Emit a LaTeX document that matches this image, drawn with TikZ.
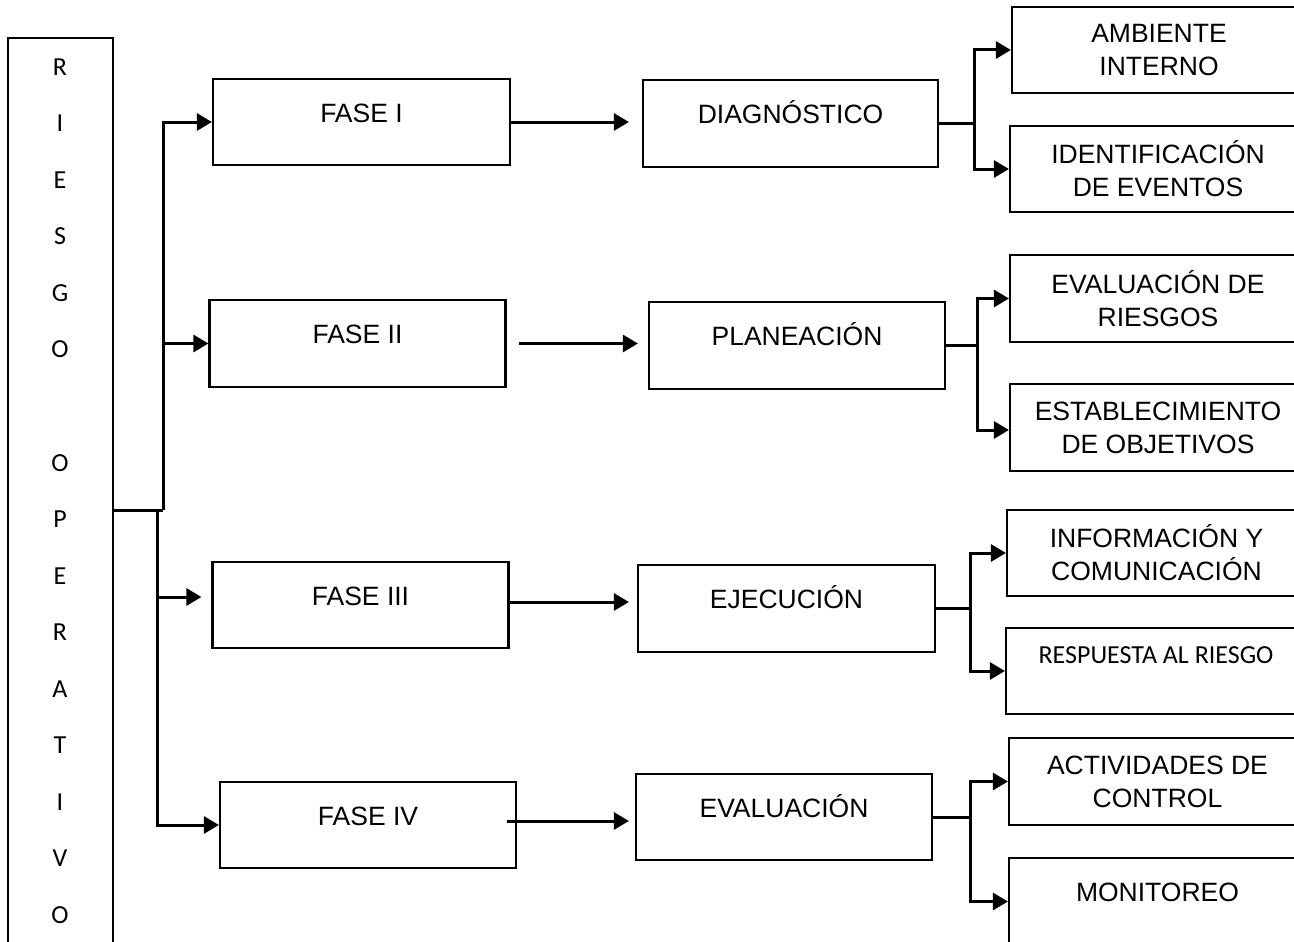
\documentclass[tikz,border=0pt]{standalone}
\usepackage{fontspec}
\setmainfont{Liberation Sans}
\newfontfamily\calib{Carlito}
\usetikzlibrary{arrows.meta}
\begin{document}
\begin{tikzpicture}[x=1pt,y=-1pt,
  box/.style={draw, line width=2.2pt, rectangle, inner sep=0pt,
    font=\fontsize{26.5}{33}\selectfont, align=center},
  onel/.style={text height=0pt, text depth=0pt},
  wbox/.style={box, minimum width=296pt, minimum height=87pt},
  conn/.style={line width=3pt},
  arr/.style={conn, -{Triangle[length=15pt,width=17pt]}},
  letter/.style={font=\calib\fontsize{26}{30}\selectfont, inner sep=0pt}
]
\useasboundingbox (0,0) rectangle (1294,942);
\clip (0,0) rectangle (1294,942);
\fill[white] (0,0) rectangle (1294,942);

% tall title bar with the word spelled vertically
\node[box, minimum width=105pt, minimum height=922pt] (bar) at (60.5,499) {};
\foreach \c/\k in {R/0,I/1,E/2,S/3,G/4,O/5,O/7,P/8,E/9,R/10,A/11,T/12,I/13,V/14,O/15}
  \node[letter] (ltr\k) at (60,{67+56.53*\k}) {\c};

% phases
\node[wbox, onel, minimum width=297pt, minimum height=86pt] (f1) at (361.5,122) {FASE I};
\node[wbox, onel] (f2) at (357.5,343.5) {FASE II};
\node[wbox, onel, minimum height=86pt] (f3) at (360.5,605) {FASE III};
\node[wbox, onel, minimum height=86pt] (f4) at (368,825) {FASE IV};

% stages
\node[wbox, onel, minimum width=295pt] (d1) at (790.5,123.5) {DIAGNÓSTICO};
\node[wbox, onel] (p2) at (797,345.5) {PLANEACIÓN};
\node[wbox, onel, minimum width=297pt] (e3) at (786.5,608.5) {EJECUCIÓN};
\node[wbox, onel, minimum height=86pt] (v4) at (784,817) {EVALUACIÓN};

% components
\node[wbox, minimum width=294pt, minimum height=86pt] (amb) at (1159,50) {AMBIENTE\\INTERNO};
\node[wbox, minimum height=86pt] (ide) at (1158,169) {IDENTIFICACIÓN\\DE EVENTOS};
\node[wbox] (evr) at (1158,298.5) {EVALUACIÓN DE\\RIESGOS};
\node[wbox] (est) at (1158,427.5) {ESTABLECIMIENTO\\DE OBJETIVOS};
\node[wbox, minimum width=299pt, minimum height=86pt] (inf) at (1156.5,553) {INFORMACIÓN Y\\COMUNICACIÓN};
\node[wbox, minimum width=300pt, minimum height=86pt, text height=0pt, text depth=15pt,
  font=\calib\fontsize{26}{30}\selectfont] (res) at (1156,671) {RESPUESTA AL RIESGO};
\node[wbox, minimum width=297pt] (act) at (1157.5,781.5) {ACTIVIDADES DE\\CONTROL};
\node[wbox, onel, minimum width=297pt] (mon) at (1157.5,901.5) {MONITOREO};

% trunk from the title bar to the phases
\coordinate (j1) at (163,510);
\coordinate (j2) at (157,510);
\coordinate (a3) at (157,597);
\draw[conn] (bar.east |- j1) -- (j1);
\draw[arr] (j1) |- (f1.west);
\draw[arr] (j1 |- f2.west) -- (f2.west);
\draw[conn] (j1) -- (j2);
\draw[arr] (j2) |- (f4.west);
\draw[arr, shorten >=10pt] (a3) -- (a3 -| f3.west);

% phase to stage
\draw[arr, shorten >=13pt] (f1.east) -- (f1.east -| d1.west);
\draw[arr, shorten <=12pt, shorten >=10pt] (f2.east) -- (f2.east -| p2.west);
\draw[arr, shorten >=8pt] ([yshift=3pt]f3.east) -- ([yshift=3pt]f3.east -| e3.west);
\draw[arr, shorten <=-5pt, shorten >=6pt] ([yshift=4pt,xshift=-5pt]f4.east) -- ([yshift=4pt]f4.east -| v4.west);

% stage to components
\coordinate (b1) at (974,123.5);
\draw[conn] (d1.east) -- (b1);
\draw[arr] (b1) |- (amb.west);
\draw[arr] (b1) |- (ide.west);

\coordinate (b2) at (977,345.5);
\draw[conn] (p2.east) -- (b2);
\draw[arr] (b2) |- (evr.west);
\draw[arr] (b2) |- ([yshift=-2.5pt]est.west);

\coordinate (b3) at (970,608.5);
\draw[conn] (e3.east) -- (b3);
\draw[arr] (b3) |- (inf.west);
\draw[arr] (b3) |- (res.west);

\coordinate (b4) at (970,817);
\draw[conn] (v4.east) -- (b4);
\draw[arr] (b4) |- (act.west);
\draw[arr] (b4) |- (mon.west);
\end{tikzpicture}
\end{document}
